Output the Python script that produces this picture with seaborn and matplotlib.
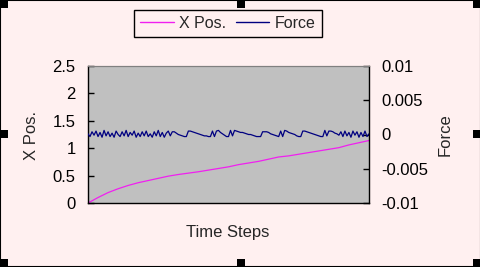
import numpy as np
import pandas as pd
import matplotlib
matplotlib.use("Agg")
import matplotlib.pyplot as plt
from matplotlib.patches import Rectangle
from matplotlib.lines import Line2D
import seaborn as sns

# ---------------- data ----------------
time_x = list(range(0, 421, 15))
x_pos = [0.00, 0.10, 0.19, 0.26, 0.32, 0.37, 0.41, 0.45, 0.49, 0.52,
         0.545, 0.57, 0.60, 0.63, 0.66, 0.70, 0.73, 0.76, 0.80, 0.84,
         0.86, 0.89, 0.92, 0.95, 0.98, 1.01, 1.06, 1.10, 1.14]

time_f = list(range(0, 421, 3))
force = [1e-4, -3e-4, 4e-4, -1e-4, 5e-4, -3e-4, 3e-4, -4e-4, 6e-4, -2e-4,
         4e-4, -3e-4, 2e-4, -4e-4, 5e-4, 0.0, -3e-4, 4e-4, -2e-4, 6e-4,
         -3e-4, 3e-4, -1e-4, 5e-4, -4e-4, 2e-4, -3e-4, 4e-4, -2e-4, 5e-4,
         -3e-4, 1e-4, -4e-4, 4e-4, -2e-4, 6e-4, -3e-4, 3e-4, -4e-4, 2e-4,
         5e-4, -2e-4,
         4e-4, 4e-4, 2e-4, 0.0, -1e-4, -2e-4, -3e-4, -3e-4,
         5e-4, 5e-4, 4e-4, 3e-4, 2e-4, 1e-4, 0.0, -1e-4, -2e-4, -2e-4, -3e-4, -3e-4,
         5e-4, -3e-4, 5e-4,
         6e-4, 3e-4, 1e-4, -1e-4, -3e-4,
         -3e-4, 6e-4, -2e-4, 6e-4, 5e-4, 4e-4,
         3e-4, 3e-4, 2e-4, 1e-4, 0.0, 0.0, -1e-4, -2e-4, -3e-4, -3e-4,
         -3e-4, 4e-4, 4e-4, 4e-4, 3e-4, 1e-4, 0.0, -1e-4, -2e-4, -3e-4,
         5e-4, -3e-4, 6e-4, 5e-4, 3e-4, 2e-4, 1e-4, 0.0, -2e-4, -3e-4, -3e-4,
         5e-4, 5e-4, 4e-4, 3e-4, 2e-4, 1e-4, 0.0, -1e-4, -2e-4, -3e-4, -3e-4,
         6e-4, -2e-4, 5e-4, 5e-4, 4e-4, 2e-4, 1e-4, -1e-4,
         4e-4, -3e-4, 5e-4, -2e-4, 3e-4, -4e-4, 5e-4, -1e-4, 4e-4, -4e-4,
         3e-4, -3e-4, 5e-4, -3e-4, 1e-4]
force = force[:len(time_f)]
time_f = time_f[:len(force)]

left_ticks = [0, 0.5, 1, 1.5, 2, 2.5]
left_labels = ["0", "0.5", "1", "1.5", "2", "2.5"]
right_ticks = [-0.01, -0.005, 0, 0.005, 0.01]
right_labels = ["-0.01", "-0.005", "0", "0.005", "0.01"]
x_ticks = [0, 140, 280, 420]

df_x = pd.DataFrame({"t": time_x, "v": x_pos})
df_f = pd.DataFrame({"t": time_f, "v": force})

# ---------------- style ----------------
sns.set_style("white")
plt.rcParams["font.family"] = ["Liberation Sans", "DejaVu Sans"]
plt.rcParams["font.size"] = 10

W, H = 481, 267
bg = "#FFF0F0"
fig = plt.figure(figsize=(W / 100, H / 100), dpi=100, facecolor=bg)
ax = fig.add_axes([88 / W, 1 - 203 / H, (369 - 88) / W, (203 - 66) / H])
ax.set_facecolor("#C0C0C0")
ax2 = ax.twinx()

sns.lineplot(data=df_x, x="t", y="v", ax=ax, color="#F020F0", linewidth=0.9)
sns.lineplot(data=df_f, x="t", y="v", ax=ax2, color="#000080", linewidth=0.9)

ax.set_xlim(0, 420)
ax.set_ylim(0, 2.5)
ax2.set_ylim(-0.01, 0.01)
ax.set_xticks(x_ticks)
ax.set_xticklabels([])
ax.set_yticks(left_ticks)
ax.set_yticklabels(left_labels)
ax2.set_yticks(right_ticks)
ax2.set_yticklabels(right_labels)

for a in (ax, ax2):
    a.tick_params(direction="in", length=4, width=1, color="black",
                  labelsize=12, labelcolor="black", pad=9)
ax.tick_params(axis="x", pad=2)

for s in ("left", "bottom"):
    ax.spines[s].set_color("black")
    ax.spines[s].set_linewidth(1)
ax2.spines["right"].set_color("black")
ax2.spines["right"].set_linewidth(1)
for s in ("top",):
    ax.spines[s].set_color("#808080")
    ax2.spines[s].set_color("#808080")
ax2.spines["left"].set_visible(False)
ax2.spines["bottom"].set_visible(False)
ax.spines["right"].set_visible(False)

ax.set_xlabel("")
ax.set_ylabel("")
ax2.set_ylabel("")
fig.text(228 / W, 1 - 233 / H, "Time Steps", ha="center", va="center", fontsize=12)
fig.text(32 / W, 1 - 135 / H, "X Pos.", ha="center", va="center", rotation=90, fontsize=12)
fig.text(445 / W, 1 - 135 / H, "Force", ha="center", va="center", rotation=90, fontsize=12)

handles = [Line2D([], [], color="#F020F0", lw=1.0), Line2D([], [], color="#000080", lw=1.0)]
leg = fig.legend(handles, ["X Pos.", "Force"], loc="center",
                 bbox_to_anchor=(228 / W, 1 - 23.5 / H), ncol=2, fontsize=11.5,
                 frameon=True, fancybox=False, edgecolor="black", facecolor=bg,
                 framealpha=1, handlelength=2.1, handletextpad=0.35,
                 columnspacing=0.6, borderpad=0.35, borderaxespad=0)
leg.get_frame().set_linewidth(1)

# outer border and selection handles
fig.patches.append(Rectangle((0, 0), 1, 1, transform=fig.transFigure,
                             fill=False, edgecolor="black", lw=1.5))
hs = 8
for (px, py) in [(0, 0), (237, 0), (W - hs, 0), (0, 130), (W - hs, 130),
                 (0, H - hs), (237, H - hs), (W - hs, H - hs)]:
    fig.patches.append(Rectangle((px / W, 1 - (py + hs) / H), hs / W, hs / H,
                                 transform=fig.transFigure, facecolor="black",
                                 edgecolor="none"))

fig.savefig("out.png", dpi=100, facecolor=bg)
